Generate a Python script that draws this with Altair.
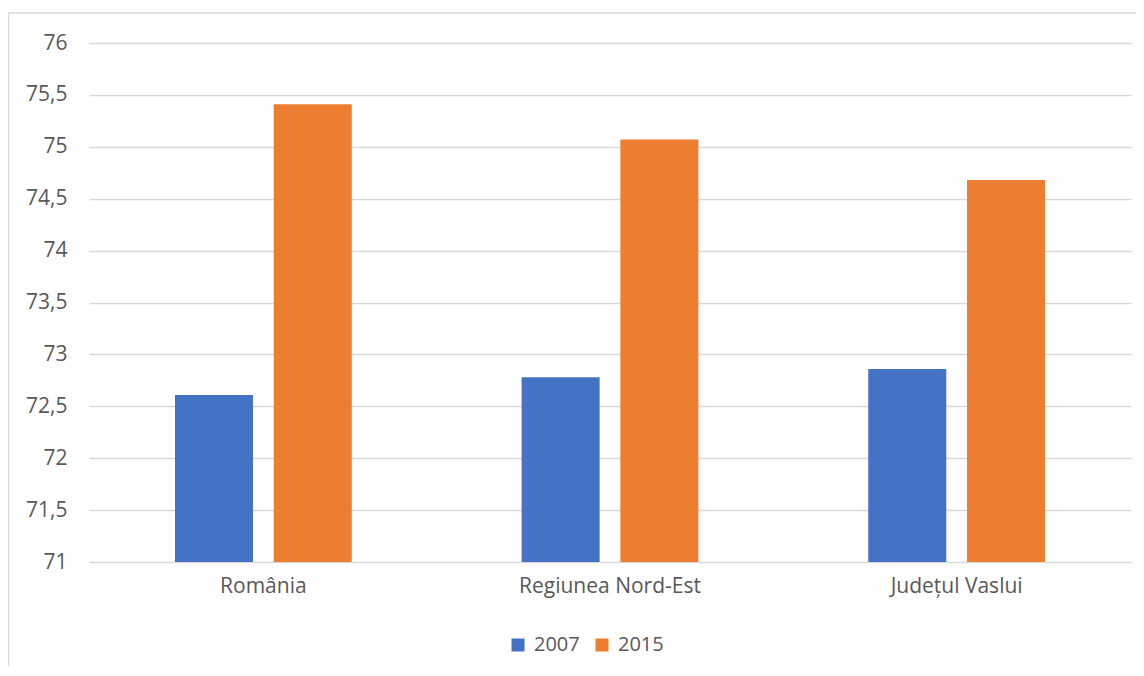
import altair as alt
import pandas as pd

categories = ["România", "Regiunea Nord-Est", "Județul Vaslui"]
years = ["2007", "2015"]
values_2007 = [72.61, 72.78, 72.86]
values_2015 = [75.41, 75.07, 74.68]
y_ticks = [71, 71.5, 72, 72.5, 73, 73.5, 74, 74.5, 75, 75.5, 76]
y_min, y_max = 71, 76

rows = []
for c, v7, v15 in zip(categories, values_2007, values_2015):
    rows.append({"cat": c, "year": years[0], "value": v7})
    rows.append({"cat": c, "year": years[1], "value": v15})
df = pd.DataFrame(rows)

FONT = "Open Sans"
TXT = "#595959"
GRID = "#D9D9D9"
FS = 21

bars = alt.Chart(df).mark_bar().encode(
    x=alt.X("cat:N", sort=categories, title=None,
            scale=alt.Scale(paddingInner=0.49, paddingOuter=0.248),
            axis=alt.Axis(labelAngle=0, labelFontSize=FS, labelColor=TXT, labelFont=FONT,
                          labelPadding=13, labelLimit=500, ticks=False, domain=False, grid=False)),
    xOffset=alt.XOffset("year:N", sort=years,
                        scale=alt.Scale(paddingInner=0.21, paddingOuter=0)),
    y=alt.Y("value:Q", title=None,
            scale=alt.Scale(domain=[y_min, y_max], zero=False, nice=False),
            axis=alt.Axis(values=y_ticks, labelExpr="replace(toString(datum.value), '.', ',')",
                          labelFontSize=FS, labelColor=TXT, labelFont=FONT, labelPadding=22,
                          ticks=False, domain=False, grid=True, gridColor=GRID, gridWidth=1.3)),
    y2=alt.datum(y_min),
    color=alt.Color("year:N", sort=years,
                    scale=alt.Scale(domain=years, range=["#4472C4", "#ED7D31"]),
                    legend=alt.Legend(title=None, orient="none", legendX=419, legendY=592,
                                      direction="horizontal", symbolType="square",
                                      symbolSize=169, symbolStrokeWidth=0,
                                      labelFontSize=20, labelColor=TXT, labelFont=FONT,
                                      labelOffset=6, columnPadding=12)),
)

border = alt.Chart(pd.DataFrame({"a": [0]})).mark_rect(
    filled=False, stroke=GRID, strokeWidth=1.5
).encode(
    x=alt.value(-80.5), x2=alt.value(1080), y=alt.value(-30), y2=alt.value(700)
)

chart = alt.layer(border, bars).properties(
    width=1042, height=519,
    background="white",
    autosize=alt.AutoSizeParams(type="none"),
    padding={"left": 81, "top": 35, "right": 5, "bottom": 104},
).configure_view(strokeWidth=0)

chart.save("out.html", embed_options={"renderer": "svg", "actions": False})
